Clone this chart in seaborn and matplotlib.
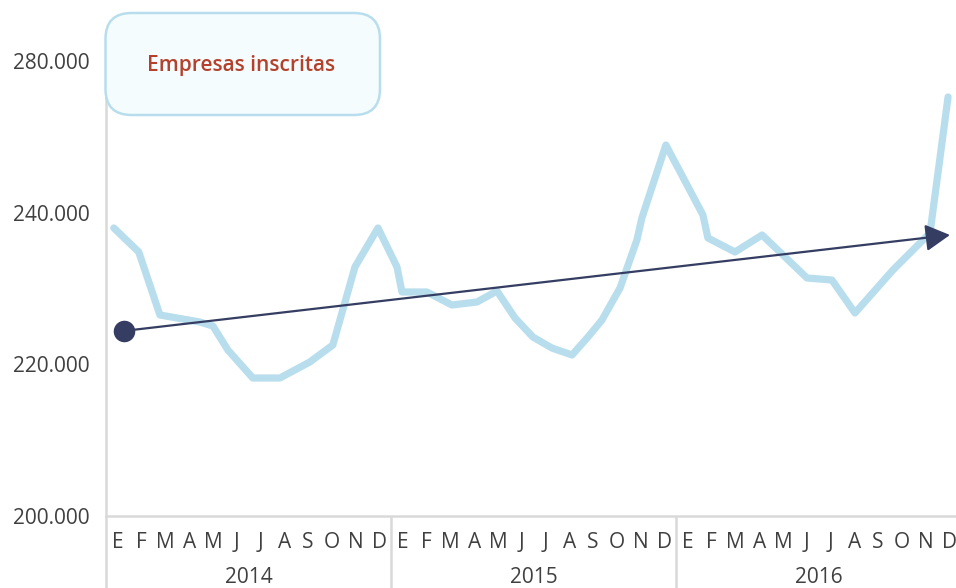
import matplotlib
matplotlib.use("Agg")
import matplotlib.pyplot as plt
import seaborn as sns
import pandas as pd
from matplotlib.patches import FancyBboxPatch
from matplotlib.transforms import IdentityTransform

# ---- data ----
# x = position in months from January 2014 (0 = E 2014, 35 = D 2016)
month_pos = [-0.17, 0.88, 1.77, 3.45, 4.0, 4.63, 5.68, 6.82, 8.08, 9.05, 9.98, 10.95,
             11.75, 11.96, 13.01, 14.06, 15.12, 15.96, 16.72, 17.47, 18.27, 19.12,
             19.79, 20.38, 21.14, 21.85, 22.06, 23.07, 24.63, 24.84, 25.98, 27.12,
             29.01, 30.06, 31.03, 32.63, 34.19, 34.95]
empresas = [237970, 234806, 226500, 225577, 225050, 221885, 218194, 218194, 220303,
            222545, 232828, 237970, 232828, 229532, 229532, 227818, 228214, 229664,
            226104, 223599, 222149, 221226, 223599, 225841, 230060, 236388, 239288,
            248913, 239684, 236652, 234806, 237047, 231378, 231114, 226764, 232433,
            237311, 255241]
trend_x = [0.25, 35.03]
trend_y = [224400, 237050]

month_labels = ["E", "F", "M", "A", "M", "J", "J", "A", "S", "O", "N", "D"]
years = ["2014", "2015", "2016"]
ytick_values = [200000, 220000, 240000, 260000]
ytick_labels = ["200.000", "220.000", "240.000", "280.000"]
series_name = "Empresas inscritas"

# ---- style ----
sns.set_theme(style="white")
plt.rcParams["font.family"] = ["Open Sans", "DejaVu Sans"]

LINE = "#b8deed"
NAVY = "#353e62"
GRID = "#d9d9d9"
TXT = "#404040"

W, H = 956, 588
AX_TOP = 60          # pixel row of the axes top (hidden under the box)
fig = plt.figure(figsize=(W / 100, H / 100), dpi=100)
ax = fig.add_axes([106 / W, (H - 516) / H, (W - 106) / W, (516 - AX_TOP) / H])
AXH = 516 - AX_TOP

df = pd.DataFrame({"mes": month_pos, "empresas": empresas})
sns.lineplot(data=df, x="mes", y="empresas", ax=ax, color=LINE, linewidth=5.2,
             sort=False, solid_joinstyle="round", solid_capstyle="round",
             zorder=2, clip_on=False)

# trend arrow
ax.annotate("", xy=(trend_x[1], trend_y[1]), xytext=(trend_x[0], trend_y[0]),
            arrowprops=dict(arrowstyle="-|>,head_length=1.0,head_width=0.55",
                            mutation_scale=15, color=NAVY, lw=1.6,
                            shrinkA=0, shrinkB=0), zorder=4)
ax.plot([trend_x[0]], [trend_y[0]], "o", ms=14.5, color=NAVY, zorder=5)

ax.set_xlim(-0.5, (W - 118) / 23.75)
ax.set_ylim(200000, 200000 + AXH * 20000 / 151.7)

# y ticks
ax.set_yticks(ytick_values, ytick_labels)
ax.tick_params(axis="y", length=0, pad=11.5, labelsize=15, labelcolor=TXT)
ax.set_xticks([])
ax.set_xlabel("")
ax.set_ylabel("")

for s in ["top", "right"]:
    ax.spines[s].set_visible(False)
for s in ["left", "bottom"]:
    ax.spines[s].set_color(GRID)
    ax.spines[s].set_linewidth(1.8)

# month and year labels
xt = ax.get_xaxis_transform()
for yi, yr in enumerate(years):
    for mi, m in enumerate(month_labels):
        ax.text(yi * 12 + mi, -32 / AXH, m, transform=xt, ha="center",
                va="baseline", fontsize=15, color=TXT)
    ax.text(yi * 12 + 5.5, -67 / AXH, yr, transform=xt, ha="center",
            va="baseline", fontsize=15, color=TXT)

# year separators extending below the axis
for xs in [-0.5, 11.5, 23.5]:
    ax.plot([xs, xs], [0, -80 / AXH], transform=xt, color=GRID, lw=1.8,
            clip_on=False, solid_capstyle="butt")

# legend-like box
box = FancyBboxPatch((105.5, H - 115), 274.5, 102,
                     boxstyle="round,pad=0,rounding_size=26",
                     transform=IdentityTransform(), facecolor="#f5fcfe",
                     edgecolor=LINE, linewidth=1.8, zorder=10)
fig.add_artist(box)
fig.text(241 / W, (H - 71) / H, series_name, ha="center", va="baseline",
         fontsize=15, fontweight="semibold", color="#b3412b", zorder=11)

fig.savefig("out.png", dpi=100)
